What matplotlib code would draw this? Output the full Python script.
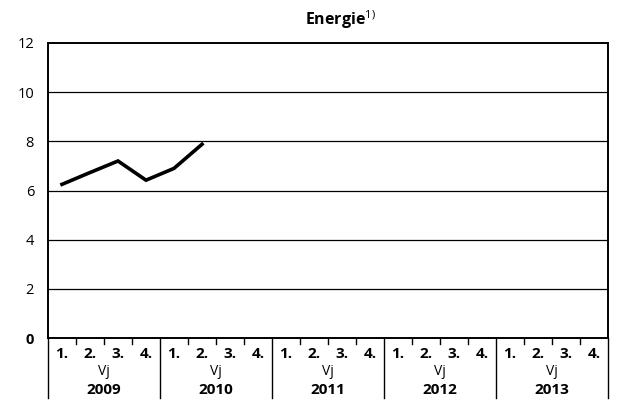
import matplotlib.pyplot as plt

# Werte je Vierteljahr (2009 Q1 bis 2010 Q2)
years = ["2009", "2010", "2011", "2012", "2013"]
quarters = ["1.", "2.", "3.", "4."]
energie = [6.25, 6.73, 7.2, 6.42, 6.9, 7.88]
y_ticks = [0, 2, 4, 6, 8, 10, 12]

plt.rcParams['font.family'] = ['Open Sans', 'DejaVu Sans']
plt.rcParams['mathtext.fontset'] = 'custom'
plt.rcParams['mathtext.rm'] = 'Open Sans'

fig = plt.figure(figsize=(6.19, 4.0), dpi=100)
ax = fig.add_axes([48 / 619, 62 / 400, 560 / 619, 295 / 400])

n = len(years) * len(quarters)
ax.plot(range(len(energie)), energie, color="black", lw=2.6, solid_joinstyle="miter")

ax.set_xlim(-0.5, n - 0.5)
ax.set_ylim(0, 12)
ax.set_yticks(y_ticks)
ax.set_yticklabels([str(v) for v in y_ticks], fontsize=10.5)
ax.get_yticklabels()[0].set_fontweight("bold")
ax.tick_params(axis="y", length=0, pad=10)
for v in y_ticks[1:-1]:
    ax.axhline(v, color="black", lw=0.9)
for s in ax.spines.values():
    s.set_linewidth(1.4)

ax.set_xticks([])
tr = ax.get_xaxis_transform()
for i in range(n):
    ax.text(i, -0.055, quarters[i % 4], transform=tr, ha="center", va="center",
            fontsize=11, fontweight="bold")
    if i % 4 != 0:
        ax.plot([i - 0.5, i - 0.5], [0, -0.022], transform=tr, color="black",
                lw=1.0, clip_on=False)
for j, yr in enumerate(years):
    c = j * 4 + 1.5
    ax.text(c, -0.114, "Vj", transform=tr, ha="center", va="center", fontsize=10)
    ax.text(c, -0.175, yr, transform=tr, ha="center", va="center",
            fontsize=11, fontweight="bold")
for j in range(len(years) + 1):
    x = j * 4 - 0.5
    ax.plot([x, x], [0, -0.205], transform=tr, color="black", lw=1.0, clip_on=False)

fig.text(340 / 619, 1 - 20 / 400, "Energie$^{1)}$", ha="center", va="center",
         fontsize=11.5, fontweight="bold")

fig.savefig("out.png", dpi=100)
